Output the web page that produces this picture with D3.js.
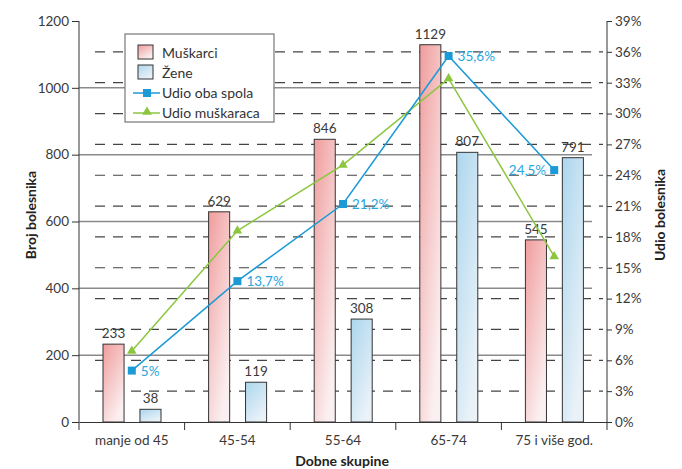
<!DOCTYPE html>
<html>
<head>
<meta charset="utf-8">
<script src="https://cdn.jsdelivr.net/npm/d3@7"></script>
<style>
  body { margin: 0; background: #fff; }
  svg text { font-family: Lato, "Open Sans", sans-serif; }
</style>
</head>
<body>
<svg id="chart" width="682" height="469"></svg>
<script>
const categories = ["manje od 45", "45-54", "55-64", "65-74", "75 i više god."];
const muskarci = [233, 629, 846, 1129, 545];
const zene = [38, 119, 308, 807, 791];
const udioObaSpola = [5.0, 13.7, 21.2, 35.6, 24.5];
const udioMuskaraca = [6.9, 18.6, 25.0, 33.4, 16.1];
const leftTicks = [0, 200, 400, 600, 800, 1000, 1200];
const rightTicks = [0, 3, 6, 9, 12, 15, 18, 21, 24, 27, 30, 33, 36, 39];

let mLeft = 79, mRight = 607, mTop = 21, mBottom = 422;
let svg = d3.select("#chart");

let defs = svg.append("defs");
function grad(id, c1, c2) {
    let g = defs.append("linearGradient").attr("id", id)
        .attr("x1", "0").attr("y1", "0").attr("x2", "0.6").attr("y2", "1");
    g.append("stop").attr("offset", "0%").attr("stop-color", c1);
    g.append("stop").attr("offset", "100%").attr("stop-color", c2);
}
grad("gm", "#f09c9c", "#fbf0f1");
grad("gz", "#acd6ee", "#eaf2f8");

let x = d3.scaleBand().domain(categories).range([mLeft, mRight]);
let xs = d3.scaleBand().domain(["m", "z"]).range([24, 82]).paddingInner(0.43);
let y = d3.scaleLinear().domain([0, 1200]).range([mBottom, mTop]);
let y2 = d3.scaleLinear().domain([0, 39]).range([mBottom, mTop]);
let cx = c => x(c) + x.bandwidth() / 2;

// grid
svg.append("g").selectAll("line")
    .data(leftTicks.filter(d => d > 0 && d < 1200))
    .enter().append("line")
    .attr("x1", mLeft).attr("x2", 592)
    .attr("y1", d => y(d)).attr("y2", d => y(d))
    .attr("stroke", "#8a8a8a").attr("stroke-width", 1.5);
svg.append("g").selectAll("line")
    .data(rightTicks.filter(d => d > 0 && d < 39))
    .enter().append("line")
    .attr("x1", 95).attr("x2", 603)
    .attr("y1", d => y2(d)).attr("y2", d => y2(d))
    .attr("stroke", "#444").attr("stroke-width", 1.2)
    .attr("stroke-dasharray", "10,8");

// bars
let bars = svg.append("g");
bars.selectAll(".m").data(muskarci).enter().append("rect")
    .attr("x", (d, i) => x(categories[i]) + xs("m"))
    .attr("width", xs.bandwidth())
    .attr("y", d => y(d)).attr("height", d => mBottom - y(d))
    .attr("fill", "url(#gm)").attr("stroke", "#333").attr("stroke-width", 1);
bars.selectAll(".z").data(zene).enter().append("rect")
    .attr("x", (d, i) => x(categories[i]) + xs("z"))
    .attr("width", xs.bandwidth())
    .attr("y", d => y(d)).attr("height", d => mBottom - y(d))
    .attr("fill", "url(#gz)").attr("stroke", "#333").attr("stroke-width", 1);

bars.selectAll(".lm").data(muskarci).enter().append("text")
    .attr("x", (d, i) => x(categories[i]) + xs("m") + xs.bandwidth() / 2)
    .attr("y", d => y(d) - 6).attr("text-anchor", "middle")
    .attr("font-size", 13.5).attr("fill", "#3a3a3a").text(d => d);
bars.selectAll(".lz").data(zene).enter().append("text")
    .attr("x", (d, i) => x(categories[i]) + xs("z") + xs.bandwidth() / 2)
    .attr("y", d => y(d) - 6).attr("text-anchor", "middle")
    .attr("font-size", 13.5).attr("fill", "#3a3a3a").text(d => d);

// axes
let axL = svg.append("g").attr("transform", "translate(" + mLeft + ",0)")
    .call(d3.axisLeft(y).tickValues(leftTicks).tickSize(7).tickSizeOuter(0).tickFormat(d3.format("d")));
let axR = svg.append("g").attr("transform", "translate(" + mRight + ",0)")
    .call(d3.axisRight(y2).tickValues(rightTicks).tickSize(5).tickSizeOuter(0).tickFormat(d => d + "%"));
let axB = svg.append("g").attr("transform", "translate(0," + mBottom + ")")
    .call(d3.axisBottom(x).tickSize(0).tickSizeOuter(0));
for (let a of [axL, axR, axB]) {
    a.select(".domain").attr("stroke", "#333");
    a.selectAll(".tick line").attr("stroke", "#333");
    a.selectAll("text").attr("font-size", 13.5).attr("fill", "#3a3a3a")
        .attr("font-family", "Lato, 'Open Sans', sans-serif");
}
axB.selectAll("text").attr("dy", "1.5em");
axL.select(".domain").attr("d", "M0," + mTop + "V" + (mBottom + 8));
axR.select(".domain").attr("d", "M0," + mTop + "V" + (mBottom + 8));
axR.select(".tick line").attr("x1", -6);
svg.append("g").selectAll("line")
    .data(categories.slice(1)).enter().append("line")
    .attr("x1", d => x(d)).attr("x2", d => x(d))
    .attr("y1", mBottom).attr("y2", mBottom + 8).attr("stroke", "#333");

// lines
let line = d3.line().x((d, i) => cx(categories[i])).y(d => y2(d));
svg.append("path").datum(udioMuskaraca).attr("d", line)
    .attr("fill", "none").attr("stroke", "#8cc63f").attr("stroke-width", 1.5);
svg.append("path").datum(udioObaSpola).attr("d", line)
    .attr("fill", "none").attr("stroke", "#1b9ad6").attr("stroke-width", 1.5);

svg.selectAll(".tri").data(udioMuskaraca).enter().append("path")
    .attr("d", d3.symbol(d3.symbolTriangle, 40))
    .attr("transform", (d, i) => "translate(" + cx(categories[i]) + "," + y2(d) + ")")
    .attr("fill", "#8cc63f");
svg.selectAll(".sq").data(udioObaSpola).enter().append("rect")
    .attr("x", (d, i) => cx(categories[i]) - 4).attr("y", d => y2(d) - 4)
    .attr("width", 8).attr("height", 8).attr("fill", "#1b9ad6");

svg.selectAll(".lb").data(udioObaSpola).enter().append("text")
    .attr("x", (d, i) => cx(categories[i]) + (i == 4 ? -8 : 9))
    .attr("y", d => y2(d) + 5)
    .attr("text-anchor", (d, i) => i == 4 ? "end" : "start")
    .attr("font-size", 13.5).attr("fill", "#2aa6de")
    .text(d => String(d).replace(".", ",") + "%");

// axis titles
svg.append("text").attr("transform", "translate(36,215)rotate(-90)")
    .attr("text-anchor", "middle").attr("font-size", 14).attr("font-weight", "bold")
    .attr("fill", "#222").text("Broj bolesnika");
svg.append("text").attr("transform", "translate(665,215)rotate(-90)")
    .attr("text-anchor", "middle").attr("font-size", 14).attr("font-weight", "bold")
    .attr("fill", "#222").text("Udio bolesnika");
svg.append("text").attr("x", 342).attr("y", 466)
    .attr("text-anchor", "middle").attr("font-size", 14).attr("font-weight", "bold")
    .attr("fill", "#222").text("Dobne skupine");

// legend
let lg = svg.append("g");
lg.append("rect").attr("x", 125).attr("y", 34).attr("width", 149).attr("height", 88)
    .attr("fill", "#fff").attr("stroke", "#777").attr("stroke-width", 1.2);
let items = ["Muškarci", "Žene", "Udio oba spola", "Udio muškaraca"];
lg.selectAll("text").data(items).enter().append("text")
    .attr("x", 162).attr("y", (d, i) => 58 + i * 20)
    .attr("font-size", 14).attr("fill", "#333").text(d => d);
lg.append("rect").attr("x", 138).attr("y", 45).attr("width", 15).attr("height", 14)
    .attr("fill", "url(#gm)").attr("stroke", "#333");
lg.append("rect").attr("x", 138).attr("y", 65).attr("width", 15).attr("height", 14)
    .attr("fill", "url(#gz)").attr("stroke", "#333");
lg.append("line").attr("x1", 133).attr("x2", 160).attr("y1", 93).attr("y2", 93)
    .attr("stroke", "#1b9ad6").attr("stroke-width", 1.5);
lg.append("rect").attr("x", 143).attr("y", 89).attr("width", 8).attr("height", 8).attr("fill", "#1b9ad6");
lg.append("line").attr("x1", 133).attr("x2", 160).attr("y1", 113).attr("y2", 113)
    .attr("stroke", "#8cc63f").attr("stroke-width", 1.5);
lg.append("path").attr("d", d3.symbol(d3.symbolTriangle, 40))
    .attr("transform", "translate(147,112)").attr("fill", "#8cc63f");
</script>
</body>
</html>
